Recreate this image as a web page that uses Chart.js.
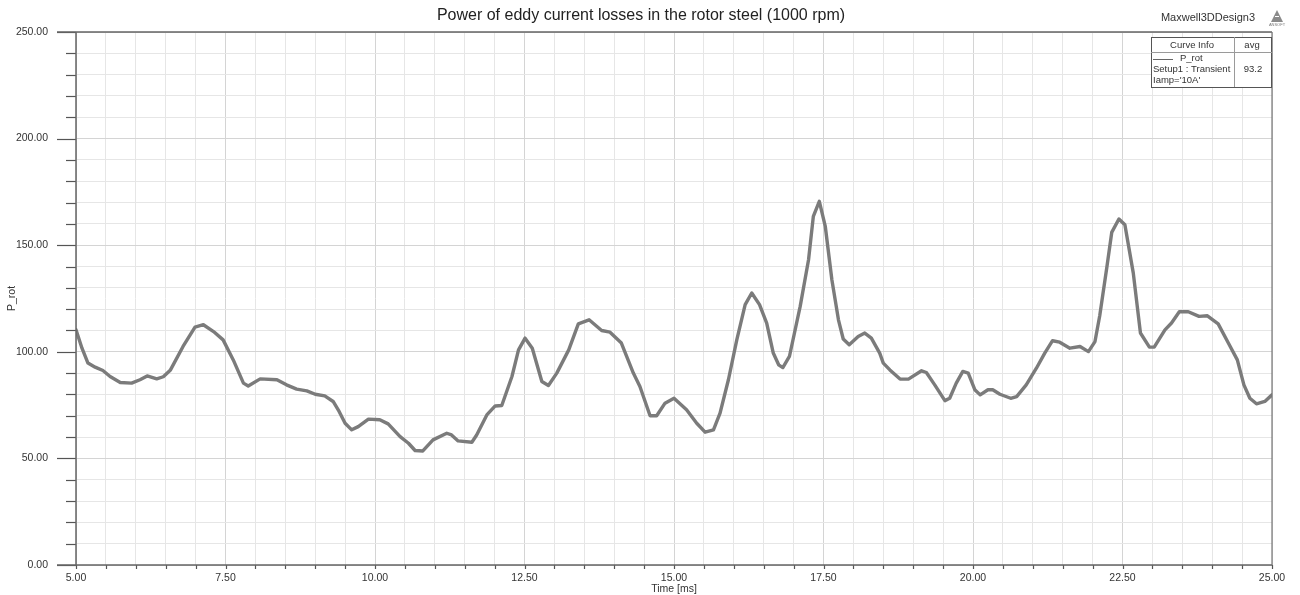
<!DOCTYPE html>
<html>
<head>
<meta charset="utf-8">
<title>Power of eddy current losses in the rotor steel</title>
<script src="https://cdn.jsdelivr.net/npm/chart.js@4/dist/chart.umd.min.js"></script>
<style>
  html, body { margin: 0; padding: 0; background: #fff; }
  #wrap { width: 1300px; height: 595px; position: relative; }
</style>
</head>
<body>
<div id="wrap"><canvas id="c" width="1300" height="595"></canvas></div>
<script>
// Transient eddy-current loss in the rotor steel, 1000 rpm, Iamp = 10 A
const timeMs = [
  5.00, 5.10, 5.20, 5.32, 5.45, 5.57, 5.74, 5.93, 6.07, 6.19,
  6.35, 6.46, 6.58, 6.79, 6.99, 7.13, 7.30, 7.46, 7.63, 7.80,
  7.88, 8.08, 8.36, 8.52, 8.69, 8.86, 9.00, 9.16, 9.30, 9.40,
  9.50, 9.61, 9.72, 9.89, 10.08, 10.22, 10.42, 10.56, 10.67, 10.80,
  10.97, 11.20, 11.28, 11.39, 11.62, 11.70, 11.87, 12.01, 12.12, 12.29,
  12.40, 12.51, 12.63, 12.79, 12.90, 13.04, 13.24, 13.40, 13.58, 13.79,
  13.93, 14.12, 14.32, 14.43, 14.60, 14.71, 14.85, 15.00, 15.21, 15.38,
  15.52, 15.66, 15.77, 15.91, 16.05, 16.19, 16.30, 16.43, 16.55, 16.66,
  16.75, 16.82, 16.93, 17.11, 17.25, 17.33, 17.43, 17.53, 17.64, 17.75,
  17.83, 17.93, 18.08, 18.19, 18.30, 18.44, 18.50, 18.61, 18.78, 18.92,
  19.14, 19.22, 19.36, 19.53, 19.61, 19.72, 19.83, 19.92, 20.03, 20.12,
  20.25, 20.33, 20.45, 20.63, 20.73, 20.89, 21.06, 21.20, 21.33, 21.45,
  21.62, 21.79, 21.93, 22.04, 22.12, 22.24, 22.32, 22.44, 22.54, 22.68,
  22.80, 22.95, 23.03, 23.21, 23.32, 23.45, 23.60, 23.78, 23.92, 24.10,
  24.27, 24.42, 24.53, 24.63, 24.74, 24.88, 25.00
];
const pRot = [
  110.3, 101.7, 94.7, 92.8, 91.2, 88.4, 85.6, 85.3, 86.9, 88.7,
  87.3, 88.3, 91.5, 102.5, 111.6, 112.7, 109.5, 105.6, 96.2, 85.3,
  84.0, 87.3, 86.9, 84.5, 82.5, 81.7, 80.1, 79.3, 76.7, 72.0,
  66.5, 63.4, 64.9, 68.4, 68.1, 66.2, 60.2, 57.1, 53.7, 53.5,
  58.7, 61.8, 61.0, 58.2, 57.6, 61.0, 70.4, 74.6, 74.8, 88.4,
  100.9, 106.4, 101.7, 86.1, 84.2, 90.0, 100.9, 113.1, 115.0, 110.0,
  109.2, 104.1, 90.0, 83.7, 70.0, 70.0, 75.9, 78.2, 72.8, 66.5,
  62.3, 63.4, 71.2, 86.9, 105.6, 122.1, 127.6, 122.1, 113.5, 99.4,
  93.9, 92.6, 97.8, 121.3, 143.2, 163.5, 170.6, 158.8, 133.8, 115.0,
  106.0, 103.3, 107.2, 108.8, 106.4, 99.4, 94.7, 91.5, 87.2, 87.2,
  91.1, 90.3, 84.5, 77.1, 78.2, 85.3, 90.8, 90.0, 82.2, 79.8,
  82.2, 82.2, 80.1, 78.2, 79.0, 84.5, 92.3, 99.4, 105.2, 104.5,
  101.7, 102.5, 100.1, 104.8, 117.0, 140.0, 156.0, 162.3, 159.6, 137.0,
  108.8, 102.2, 102.2, 110.3, 113.5, 118.8, 118.8, 116.6, 116.9, 113.1,
  104.1, 96.2, 84.5, 78.2, 75.6, 76.7, 79.8
];

const xRange = [5, 25];
const xStep = 0.5;
const xLabelEvery = 2.5;
const yRange = [0, 250];
const yStep = 10;
const yLabelEvery = 50;

const titleText = 'Power of eddy current losses in the rotor steel (1000 rpm)';
const designName = 'Maxwell3DDesign3';
const curveName = 'P_rot';
const curveSetup = ['Setup1 : Transient', "Iamp='10A'"];
const curveAvg = '93.2';

const FONT = '"Liberation Sans", Arial, sans-serif';
const isMultiple = (v, m) => Math.abs(v / m - Math.round(v / m)) < 1e-6;

// frame, tick marks, title, legend table and logo
const decorations = {
  id: 'decorations',
  afterDraw(chart) {
    const { ctx, chartArea: a, scales } = chart;
    const xs = scales.x, ys = scales.y;
    ctx.save();

    // y tick marks: long at labelled values, short otherwise
    ctx.strokeStyle = '#555';
    ctx.lineWidth = 1.2;
    for (let v = yRange[0]; v <= yRange[1] + 1e-9; v += yStep) {
      const y = Math.round(ys.getPixelForValue(v)) + 0.5;
      const len = isMultiple(v, yLabelEvery) ? 19 : 10;
      ctx.beginPath(); ctx.moveTo(a.left - len, y); ctx.lineTo(a.left, y); ctx.stroke();
    }
    // x tick marks below the axis
    for (let v = xRange[0]; v <= xRange[1] + 1e-9; v += xStep) {
      const x = Math.round(xs.getPixelForValue(v)) + 0.5;
      ctx.beginPath(); ctx.moveTo(x, a.bottom); ctx.lineTo(x, a.bottom + 4); ctx.stroke();
    }

    // frame: top and bottom lines reach out to the long ticks
    ctx.strokeStyle = '#666';
    ctx.lineWidth = 1.5;
    ctx.beginPath();
    ctx.moveTo(a.left - 19, a.top); ctx.lineTo(a.right, a.top);
    ctx.moveTo(a.left - 19, a.bottom); ctx.lineTo(a.right, a.bottom);
    ctx.moveTo(a.left, a.top); ctx.lineTo(a.left, a.bottom);
    ctx.stroke();
    ctx.lineWidth = 1.2;
    ctx.strokeStyle = '#777';
    ctx.beginPath(); ctx.moveTo(a.right, a.top); ctx.lineTo(a.right, a.bottom); ctx.stroke();

    // title
    ctx.fillStyle = '#222';
    ctx.font = '16px ' + FONT;
    ctx.textAlign = 'center';
    ctx.textBaseline = 'middle';
    ctx.fillText(titleText, 641, 16);

    // design name
    ctx.fillStyle = '#333';
    ctx.font = '11px ' + FONT;
    ctx.fillText(designName, 1208, 18);

    // small vendor mark
    ctx.fillStyle = '#8a8a8a';
    ctx.beginPath();
    ctx.moveTo(1277, 10); ctx.lineTo(1271, 22); ctx.lineTo(1283, 22); ctx.closePath();
    ctx.fill();
    ctx.fillStyle = '#fff';
    ctx.fillRect(1275, 16, 4, 1);
    ctx.fillStyle = '#777';
    ctx.font = '4px ' + FONT;
    ctx.fillText('ANSOFT', 1277, 25);

    // curve info table
    const L = 1151, T = 37, R = a.right, B = 87, H = 52, C = 1234;
    ctx.fillStyle = '#fff';
    ctx.fillRect(L, T, R - L, B - T);
    ctx.strokeStyle = '#555';
    ctx.lineWidth = 1;
    ctx.strokeRect(L + 0.5, T + 0.5, R - L - 1, B - T);
    ctx.strokeStyle = '#9a9a9a';
    ctx.beginPath();
    ctx.moveTo(L, H + 0.5); ctx.lineTo(R, H + 0.5);
    ctx.moveTo(C + 0.5, T); ctx.lineTo(C + 0.5, B);
    ctx.stroke();
    ctx.fillStyle = '#333';
    ctx.font = '9.5px ' + FONT;
    ctx.textAlign = 'center';
    ctx.fillText('Curve Info', 1192, 45);
    ctx.fillText('avg', 1252, 45);
    ctx.fillText(curveAvg, 1253, 69.5);
    ctx.textAlign = 'left';
    ctx.fillText(curveName, 1180, 58.5);
    ctx.fillText(curveSetup[0], 1153, 69.5);
    ctx.fillText(curveSetup[1], 1153, 80);
    ctx.strokeStyle = '#666';
    ctx.beginPath(); ctx.moveTo(1153, 59.5); ctx.lineTo(1173, 59.5); ctx.stroke();

    ctx.restore();
  }
};

const gridColor = (every) => (c) =>
  (c.tick && isMultiple(c.tick.value, every)) ? '#d4d4d4' : '#e6e6e6';

new Chart(document.getElementById('c'), {
  type: 'line',
  data: {
    datasets: [{
      label: curveName,
      data: timeMs.map((t, i) => ({ x: t, y: pRot[i] })),
      borderColor: '#7b7b7b',
      borderWidth: 3.4,
      pointRadius: 0,
      tension: 0,
      borderJoinStyle: 'round',
      borderCapStyle: 'round'
    }]
  },
  options: {
    responsive: false,
    animation: false,
    events: [],
    layout: { padding: { top: 32, right: 28, left: 0, bottom: 0 } },
    plugins: { legend: { display: false }, tooltip: { enabled: false }, title: { display: false } },
    scales: {
      x: {
        type: 'linear',
        min: xRange[0], max: xRange[1],
        afterFit(s) { s.height = 30; s.paddingLeft = 0; s.paddingRight = 0; },
        afterBuildTicks(s) {
          const t = [];
          for (let v = xRange[0]; v <= xRange[1] + 1e-9; v += xStep) t.push({ value: +v.toFixed(2) });
          s.ticks = t;
        },
        ticks: {
          autoSkip: false, maxRotation: 0, padding: 7,
          color: '#333', font: { family: FONT, size: 10.5 },
          callback: (v) => isMultiple(v, xLabelEvery) ? v.toFixed(2) : ''
        },
        grid: { drawTicks: false, color: gridColor(xLabelEvery), lineWidth: 1 },
        border: { display: false },
        title: { display: true, text: 'Time [ms]', color: '#333', font: { family: FONT, size: 10.5 }, padding: { top: 0, bottom: 0 } }
      },
      y: {
        min: yRange[0], max: yRange[1],
        afterFit(s) { s.width = 76; s.paddingTop = 0; s.paddingBottom = 0; },
        afterBuildTicks(s) {
          const t = [];
          for (let v = yRange[0]; v <= yRange[1] + 1e-9; v += yStep) t.push({ value: v });
          s.ticks = t;
        },
        ticks: {
          autoSkip: false, padding: 28,
          color: '#333', font: { family: FONT, size: 10.5 },
          callback: (v) => isMultiple(v, yLabelEvery) ? v.toFixed(2) : ''
        },
        grid: { drawTicks: false, color: gridColor(yLabelEvery), lineWidth: 1 },
        border: { display: false },
        title: { display: true, text: 'P_rot', color: '#333', font: { family: FONT, size: 10.5 }, padding: { top: 6, bottom: 0 } }
      }
    }
  },
  plugins: [decorations]
});
</script>
</body>
</html>
